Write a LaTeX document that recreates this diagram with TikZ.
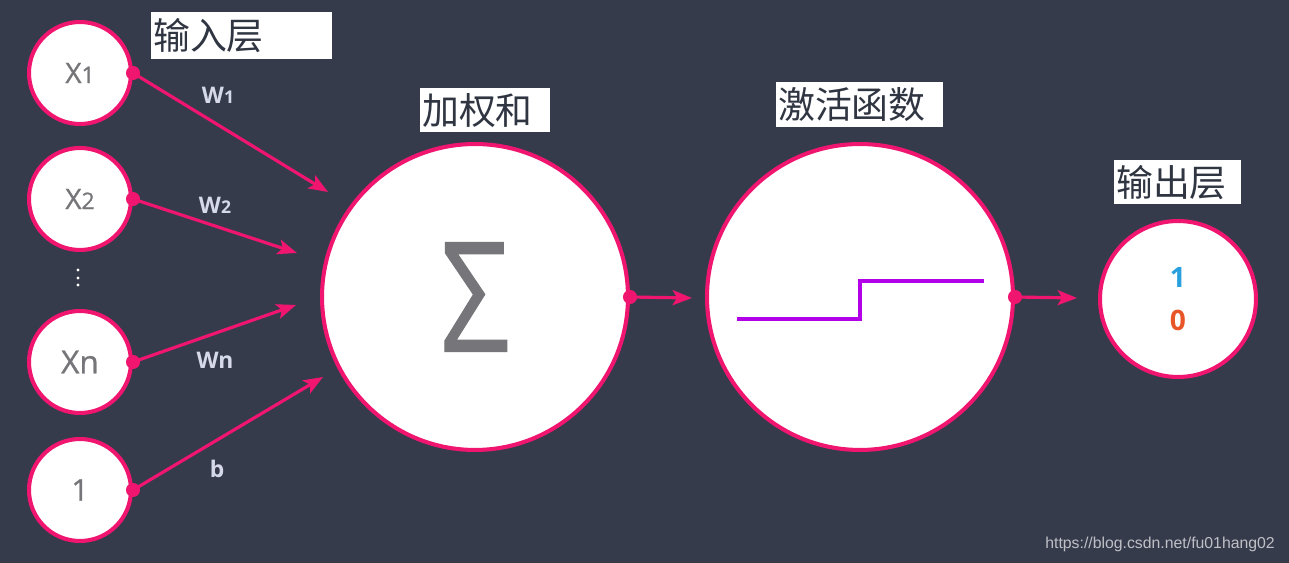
\documentclass[tikz,border=0pt]{standalone}
\usepackage{fontspec}
\usepackage{graphicx}
\setmainfont{Open Sans}
\newfontfamily\cjkfont{Noto Sans CJK SC}
\newfontfamily\urlfont{Liberation Sans}
\newfontfamily\neuronfont{Open Sans}[FakeBold=0.8]
\usetikzlibrary{arrows.meta,positioning}

\definecolor{bgnavy}{RGB}{54,59,76}
\definecolor{neuronpink}{RGB}{240,22,112}
\definecolor{labelgray}{RGB}{118,118,122}
\definecolor{weightgray}{RGB}{214,217,232}
\definecolor{steppurple}{RGB}{178,0,232}
\definecolor{oneblue}{RGB}{40,160,222}
\definecolor{zeroorange}{RGB}{232,86,40}
\definecolor{tagdark}{RGB}{48,53,66}
\definecolor{markgray}{RGB}{190,192,198}

\begin{document}
\begin{tikzpicture}[
    x=0.02cm, y=-0.02cm,
    neuron/.style={circle, draw=neuronpink, line width=2.3pt, fill=white, inner sep=0pt, text=labelgray},
    inneuron/.style={neuron, minimum size=2.04cm, font=\neuronfont\fontsize{16}{16}\selectfont},
    bigneuron/.style={neuron, minimum size=6.12cm},
    outneuron/.style={neuron, minimum size=3.12cm, align=center, font=\bfseries\fontsize{16}{24.5}\selectfont},
    tag/.style={fill=white, inner sep=0pt, inner xsep=1pt, anchor=north west, align=left, text=tagdark, font=\cjkfont\fontsize{21}{21}\selectfont},
    weight/.style={text=weightgray, font=\bfseries\fontsize{13}{13}\selectfont},
    link/.style={draw=neuronpink, line width=1.8pt, -{Stealth[length=11pt, width=8.5pt, inset=2.5pt]}},
    pin/.style={fill=neuronpink}
]

    % Background
    \fill [bgnavy] (0,0) rectangle (1289,563);
    \useasboundingbox (0,0) rectangle (1289,563);

    % Input layer
    \node [inneuron] (x1) at (80,73) {X{\fontsize{13}{13}\selectfont 1}};
    \node [inneuron] (x2) at (80,199) {X{\fontsize{13}{13}\selectfont 2}};
    \foreach \y in {270,278,285}
        \fill [white] (78,\y) circle (0.9pt);
    \node [inneuron, font=\neuronfont\fontsize{18}{18}\selectfont] (xn) at (80,362) {Xn};
    \node [inneuron, font=\neuronfont\fontsize{17}{17}\selectfont] (bias) at (80,490) {1};

    % Weighted sum and activation
    \node [bigneuron, font=\neuronfont\fontsize{87}{87}\selectfont] (sum) at (475,297) {\scalebox{0.8}[1]{Σ}};
    \node [bigneuron] (act) at (860,297) {};
    \draw [steppurple, line width=2.3pt] (act.center) ++(-123,22) -- ++(123,0) -- ++(0,-38) -- ++(124,0);

    % Output layer
    \node [outneuron] (out) at (1178,299) {\textcolor{oneblue}{1}\\\textcolor{zeroorange}{0}};

    % Tags
    \node [tag, text width=3.55cm, minimum height=0.94cm] (intag) at (151,12) {输入层};
    \node [tag, text width=2.53cm, minimum height=0.88cm] (sumtag) at (420,88) {加权和};
    \node [tag, text width=3.27cm, minimum height=0.9cm] (acttag) at (776,82) {激活函数};
    \node [tag, text width=2.47cm, minimum height=0.88cm] (outtag) at (1114,160) {输出层};

    % Arrow ends
    \coordinate (in1) at (328,192);
    \coordinate (in2) at (297,253);
    \coordinate (in3) at (296,305);
    \coordinate (in4) at (323,377);
    \coordinate (sumend) at (692,298);
    \coordinate (actend) at (1077,298);

    % Weighted links
    \path [link] (x1.east) -- (in1);
    \path [link] (x2.east) -- (in2);
    \path [link] (xn.east) -- (in3);
    \path [link] (bias.east) -- (in4);
    \path [link] (sum.east) -- (sumend);
    \path [link] (act.east) -- (actend);
    \foreach \n in {x1,x2,xn,bias,sum,act}
        \fill [pin] (\n.east) circle (4pt);

    \node [weight] (w1) at (218,95) {W{\fontsize{10}{10}\selectfont 1}};
    \node [weight] (w2) at (215,205) {W{\fontsize{10}{10}\selectfont 2}};
    \node [weight] (wn) at (215,360) {Wn};
    \node [weight] (wb) at (217,469) {b};

    % Watermark
    \node [anchor=east, text=markgray, font=\urlfont\fontsize{9}{9}\selectfont] (mark) at (1281,544) {https://blog.csdn.net/fu01hang02};

\end{tikzpicture}
\end{document}
